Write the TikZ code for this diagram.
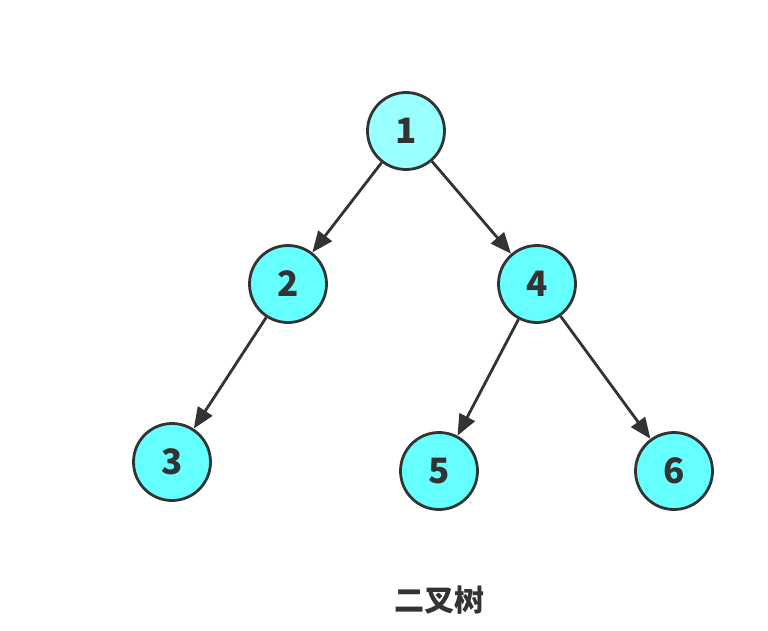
\documentclass[tikz,border=0pt]{standalone}
\usepackage{fontspec}
\newfontfamily\cjk{Noto Sans CJK SC}
\usetikzlibrary{arrows.meta}
\definecolor{linec}{HTML}{333333}
\definecolor{rootfill}{HTML}{99FFFF}
\definecolor{nodefill}{HTML}{66FFFF}
\tikzset{
  treenode/.style={circle, draw=linec, line width=2.8pt, fill=nodefill, minimum size=77pt, inner sep=0pt,
    text=linec, font=\cjk\bfseries\fontsize{35}{35}\selectfont},
  edge/.style={draw=linec, line width=2.8pt, -{Triangle[length=21pt,width=17pt]}},
}
\begin{document}
\begin{tikzpicture}[x=1pt,y=-1pt]
\useasboundingbox (0,0) rectangle (768,630);
\node[treenode, fill=rootfill] (n1) at (406,131) {1};
\node[treenode] (n2) at (288,284) {2};
\node[treenode] (n4) at (537,284) {4};
\node[treenode] (n3) at (172,462) {3};
\node[treenode] (n5) at (439,471) {5};
\node[treenode] (n6) at (674,471) {6};
\draw[edge] (n1) -- (n2);
\draw[edge] (n1) -- (n4);
\draw[edge] (n2) -- (n3);
\draw[edge] (n4) -- (n5);
\draw[edge] (n4) -- (n6);
\node[text=linec, font=\cjk\bfseries\fontsize{30}{30}\selectfont] (title) at (439,600) {二叉树};
\end{tikzpicture}
\end{document}
